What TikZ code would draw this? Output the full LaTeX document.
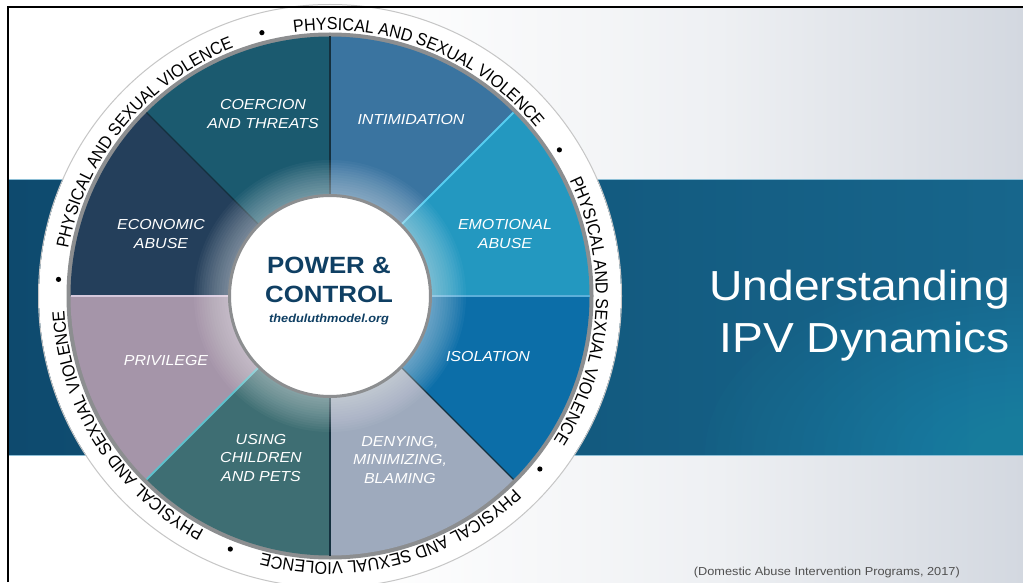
\documentclass[tikz,border=0pt]{standalone}
\usepackage{fontspec}
\setmainfont{Liberation Sans}
\newfontfamily\wsans[FakeStretch=1.1]{Liberation Sans}
\newfontfamily\csans[FakeStretch=0.92]{Liberation Sans}
\usetikzlibrary{decorations.text}
\definecolor{cEmo}{HTML}{2398C0}
\definecolor{cInt}{HTML}{3A74A0}
\definecolor{cCoe}{HTML}{1B5A6F}
\definecolor{cEco}{HTML}{243F5B}
\definecolor{cPri}{HTML}{A595A9}
\definecolor{cUsi}{HTML}{3E6E73}
\definecolor{cDen}{HTML}{9EAABD}
\definecolor{cIso}{HTML}{0C6EA8}
\definecolor{cNavy}{HTML}{0F3F63}
\definecolor{bandL}{HTML}{0E4A6E}
\definecolor{bandR}{HTML}{17668C}
\definecolor{bandGlow}{HTML}{2898B8}
\definecolor{bandEdge}{HTML}{8DBFD6}
\definecolor{rimGray}{HTML}{8C8E90}
\definecolor{citeGray}{HTML}{505050}
\definecolor{bgMid}{HTML}{EEF0F3}
\definecolor{bgR}{HTML}{D3D8E0}
\definecolor{divDark}{HTML}{14303E}
\definecolor{hlCyan}{HTML}{56CDF0}
\definecolor{hlBlue}{HTML}{5CB0DA}
\definecolor{hlLav}{HTML}{D5C8DC}
\definecolor{hlTeal}{HTML}{5FC0CC}
\pgfdeclarehorizontalshading{bgshade}{100bp}{color(0bp)=(white); color(25bp)=(white); color(42bp)=(white); color(60bp)=(bgMid); color(75bp)=(bgR); color(100bp)=(bgR)}
\newcommand\ringfont{\csans\fontsize{17.5}{17.5}\selectfont}
\newcommand\segfont{\wsans\itshape\fontsize{14.5}{18.5}\selectfont}
\tikzset{
  seglabel/.style={text=white, font=\segfont, align=center, inner sep=0pt},
  divline/.style={line width=1.3pt, divDark},
}
\begin{document}
\begin{tikzpicture}[x=1pt,y=1pt]
\useasboundingbox (0,0) rectangle (1023,582);
% background
\fill[white] (0,0) rectangle (1023,582);
\shade[shading=bgshade] (9,0) rectangle (1023,575);
% band
\shade[left color=bandL, right color=bandR] (9,127) rectangle (1023,402);
\begin{scope}
  \clip (9,127) rectangle (1023,402);
  \foreach \i in {1,...,24}
    \fill[bandGlow, opacity=0.035] (1023,127) ellipse ({30+12*\i} and {18+7*\i});
\end{scope}
\draw[bandEdge, line width=1pt] (9,402) -- (1023,402);
\draw[bandEdge, line width=1pt] (9,127) -- (1023,127);
% wheel
\begin{scope}[shift={(330,286)}]
  \fill[white] (0,0) circle (291);
  \draw[gray!45, line width=1pt] (0,0) circle (291.5);
  \fill[rimGray] (0,0) circle (263.5);
  \foreach \a/\c in {0/cEmo,45/cInt,90/cCoe,135/cEco,180/cPri,225/cUsi,270/cDen,315/cIso}
    \fill[\c] (0,0) -- (\a:259.5) arc[start angle=\a, end angle=\a+45, radius=259.5] -- cycle;
  \foreach \a in {90,135,270,315}
    \draw[divline] (0,0) -- (\a:259.5);
  \draw[hlCyan, line width=1.8pt] (0,0) -- (45:259.5);
  \draw[hlBlue, line width=1.6pt] (0,0) -- (0:259.5);
  \draw[hlLav, line width=1.8pt] (0,0) -- (180:259.5);
  \draw[hlTeal, line width=1.8pt] (0,0) -- (225:259.5);
  % glow round the hub
  \foreach \i in {1,...,14}
    \fill[white, opacity=0.035] (0,0) circle ({101+2.5*\i});
  \fill[white] (0,0) circle (100.5);
  \draw[rimGray, line width=3pt] (0,0) circle (100.5);
  % ring text and dots
  \foreach \m in {68.5,-3.5,-75.5,-147.5,140.5} {
    \path[decorate, decoration={text along path, text align=center,
        text={|\ringfont|PHYSICAL AND SEXUAL VIOLENCE}}]
      (\m+36:266) arc[start angle=\m+36, end angle=\m-36, radius=266];
    \fill[black] (\m+36:272) circle (2.6);
  }
\end{scope}
% segment labels
\node[seglabel] (coer) at (263,468) {COERCION\\AND THREATS};
\node[seglabel] (intim) at (411,462) {INTIMIDATION};
\node[seglabel] (econ) at (161,348) {ECONOMIC\\ABUSE};
\node[seglabel] (emot) at (505,348) {EMOTIONAL\\ABUSE};
\node[seglabel] (priv) at (166,221) {PRIVILEGE};
\node[seglabel] (isol) at (488,225) {ISOLATION};
\node[seglabel] (using) at (261,124) {USING\\CHILDREN\\AND PETS};
\node[seglabel] (deny) at (400,122) {DENYING,\\MINIMIZING,\\BLAMING};
% hub text
\node[text=cNavy, font=\wsans\bfseries\fontsize{23.5}{29}\selectfont, align=center, inner sep=0pt] (pc) at (329,302) {POWER \&\\CONTROL};
\node[text=cNavy, font=\wsans\bfseries\itshape\fontsize{11.6}{14}\selectfont, inner sep=0pt] (url) at (329,262) {theduluthmodel.org};
% title
\node[text=white, font=\wsans\fontsize{42}{52}\selectfont, align=right, anchor=east, inner sep=0pt] (title) at (1010,266) {Understanding\\IPV Dynamics};
% citation
\node[text=citeGray, font=\wsans\fontsize{11.6}{14}\selectfont, anchor=east, inner sep=0pt] (cite) at (960,10) {(Domestic Abuse Intervention Programs, 2017)};
% frame
\draw[black, line width=2pt] (8,0) -- (8,575) -- (1023,575);
\end{tikzpicture}
\end{document}
